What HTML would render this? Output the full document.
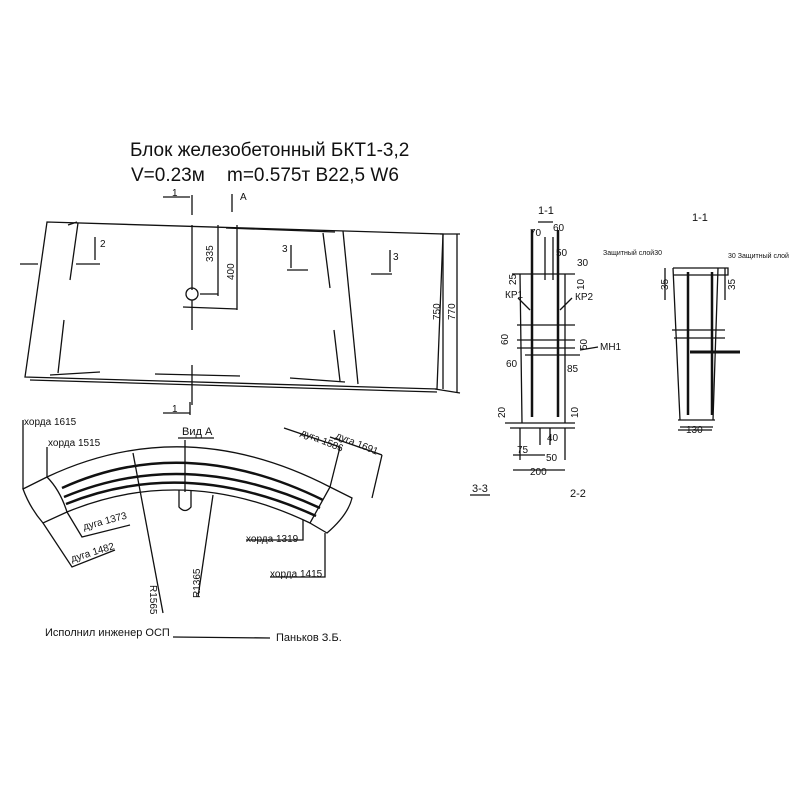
<!DOCTYPE html>
<html><head><meta charset="utf-8"><style>
body{margin:0;background:#fff;}
svg{display:block}
text{font-family:"Liberation Sans",sans-serif;fill:#111}
</style></head><body>
<svg width="800" height="800" viewBox="0 0 800 800" xmlns="http://www.w3.org/2000/svg">
<rect width="800" height="800" fill="#fff"/>
<g stroke="#111" fill="none" stroke-width="1.3">
<path d="M47,222 L443,234 L437,389 L25,377 Z"/>
<path d="M30,380 L437,392"/>
<path d="M68,225 L77,222 M78,223 L70,280 M64,320 L58,373"/>
<path d="M226,228 L335,232 M323,233 L330,288 M334,330 L340,381"/>
<path d="M343,231 L358,384"/>
<path d="M50,375 L100,372 M155,374 L240,376 M290,378 L345,382"/>
<path d="M192,195 L192,215 M192,225 L192,290 M192,300 L192,330 M192,365 L192,405"/>
<circle cx="192" cy="294" r="6"/>
<path d="M200,294 L218,294 M218,225 L218,296 M183,307 L237,309 M237,225 L237,310"/>
<path d="M20,264 L38,264 M76,264 L100,264 M95,237 L95,260 M287,270 L308,270 M291,245 L291,268 M371,274 L392,274 M390,250 L390,272"/>
<path d="M163,197 L190,197 M232,194 L232,212 M163,413 L190,413 M190,402 L190,415"/>
<path d="M443,234 L443,389 M457,234 L457,393 M440,234 L460,234 M435,389 L460,393"/>
<path d="M47,477 Q185,412 330,487"/>
<path d="M67,512 Q185,463 310,523"/>
<path d="M62,488 Q185,432 323,500" stroke-width="2.5"/>
<path d="M64,497 Q185,446 320,508" stroke-width="2.5"/>
<path d="M66,504 Q185,456 316,516" stroke-width="2.5"/>
<path d="M47,477 L23,489 Q30,508 43,523 L67,512 Q60,490 47,477"/>
<path d="M330,487 L352,498 Q348,515 327,533 L310,523 Q320,505 330,487"/>
<path d="M23,420 L23,489 M47,447 L47,477 M67,512 L82,537 L130,525 M43,523 L72,567 L115,550"/>
<path d="M284,428 L340,447 M340,447 L330,487 M330,437 L382,455 M382,455 L372,498"/>
<path d="M303,520 L303,540 L246,540 M325,533 L325,577 L270,577"/>
<path d="M133,453 L163,613 M213,495 L198,597 M185,440 L185,492"/>
<path d="M179,490 L179,507 Q185,514 191,507 L191,490"/>
<path d="M178,438 L214,438"/>
<path d="M173,637 L270,638"/>
<path d="M512,274 L575,274 M520,274 L522,423 M565,274 L565,423 M505,423 L575,423 M510,428 L575,428"/>
<path d="M545,237 L545,280 M553,237 L553,280 M538,222 L545,222 M545,222 L553,222"/>
<path d="M532,230 L532,417 M558,230 L558,417" stroke-width="2.5"/>
<path d="M517,325 L575,325 M517,340 L575,340 M517,348 L575,348 M525,355 L580,355"/>
<path d="M520,428 L520,460 M565,428 L565,460 M540,428 L540,445 M550,428 L550,445 M513,470 L565,470 M513,455 L545,455"/>
<path d="M518,298 L530,310 M572,298 L560,310 M580,350 L598,347"/>
<path d="M470,495 L490,495"/>
<path d="M673,268 L728,268 L728,275 L673,275 M673,268 L680,420 M718,268 L713,420 M678,420 L715,420 M680,427 L713,427"/>
<path d="M688,272 L688,415 M712,272 L712,415" stroke-width="2.5"/>
<path d="M672,330 L725,330 M674,338 L725,338"/>
<path d="M690,352 L740,352" stroke-width="3"/>
<path d="M678,430 L712,430 M665,268 L665,300 M725,268 L725,300"/>
</g>
<g font-size="19">
<text x="130" y="156">Блок железобетонный БКТ1-3,2</text>
<text x="131" y="181">V=0.23м</text>
<text x="227" y="181">m=0.575т  B22,5  W6</text>
</g>
<g font-size="10">
<text x="172" y="196">1</text><text x="240" y="200">A</text>
<text x="100" y="247">2</text><text x="282" y="252">3</text><text x="393" y="260">3</text>
<text x="172" y="412">1</text>
<text x="213" y="262" transform="rotate(-90 213 262)">335</text>
<text x="234" y="280" transform="rotate(-90 234 280)">400</text>
<text x="440" y="320" transform="rotate(-90 440 320)">750</text>
<text x="455" y="320" transform="rotate(-90 455 320)">770</text>
<text x="24" y="425">хорда 1615</text>
<text x="48" y="446">хорда 1515</text>
<text x="182" y="435" font-size="11">Вид А</text>
<text x="84" y="530" transform="rotate(-15 84 530)">дуга 1373</text>
<text x="72" y="562" transform="rotate(-17 72 562)">дуга 1482</text>
<text x="300" y="435" transform="rotate(22 300 435)">дуга 1586</text>
<text x="335" y="438" transform="rotate(22 335 438)">дуга 1691</text>
<text x="246" y="542">хорда 1319</text>
<text x="270" y="577">хорда 1415</text>
<text x="150" y="585" transform="rotate(90 150 585)">R1565</text>
<text x="200" y="598" transform="rotate(-90 200 598)">R1365</text>
<text x="45" y="636" font-size="11">Исполнил инженер ОСП</text>
<text x="276" y="641" font-size="11">Паньков З.Б.</text>
<text x="538" y="214" font-size="11">1-1</text>
<text x="530" y="236">70</text><text x="553" y="231">60</text>
<text x="556" y="256">50</text><text x="577" y="266">30</text>
<text x="516" y="285" transform="rotate(-90 516 285)">25</text>
<text x="584" y="290" transform="rotate(-90 584 290)">10</text>
<text x="505" y="298">КР1</text><text x="575" y="300">КР2</text>
<text x="508" y="345" transform="rotate(-90 508 345)">60</text>
<text x="587" y="350" transform="rotate(-90 587 350)">50</text>
<text x="600" y="350">МН1</text>
<text x="506" y="367">60</text><text x="567" y="372">85</text>
<text x="505" y="418" transform="rotate(-90 505 418)">20</text>
<text x="578" y="418" transform="rotate(-90 578 418)">10</text>
<text x="547" y="441">40</text><text x="517" y="453">75</text>
<text x="546" y="461">50</text><text x="530" y="475">200</text>
<text x="472" y="492" font-size="11">3-3</text><text x="570" y="497" font-size="11">2-2</text>
<text x="692" y="221" font-size="11">1-1</text>
<text x="603" y="255" font-size="7">Защитный слой30</text>
<text x="728" y="258" font-size="7">30 Защитный слой</text>
<text x="668" y="290" transform="rotate(-90 668 290)">35</text>
<text x="735" y="290" transform="rotate(-90 735 290)">35</text>
<text x="686" y="433">130</text>
</g>
</svg>
</body></html>
